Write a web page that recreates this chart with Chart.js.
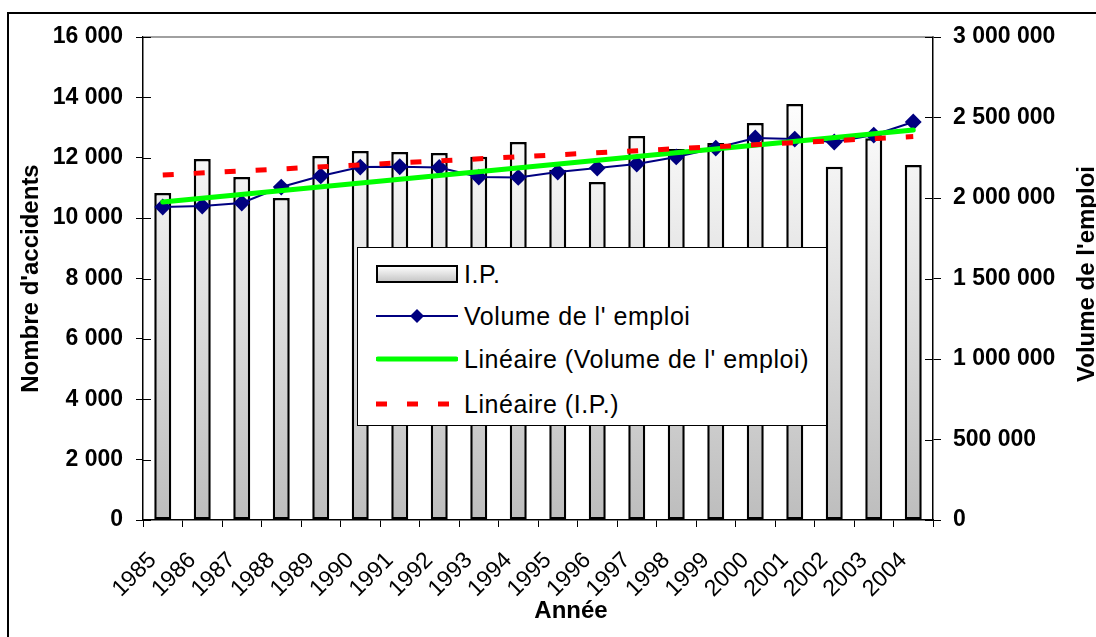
<!DOCTYPE html>
<html>
<head>
<meta charset="utf-8">
<script src="https://cdn.jsdelivr.net/npm/chart.js@4.4.1/dist/chart.umd.min.js"></script>
<style>
  body { margin: 0; background: #fff; overflow: hidden; font-family: "Liberation Sans", Arial, sans-serif; }
  #wrap { position: relative; width: 1096px; height: 637px; overflow: hidden; background: #fff; }
  #frame { position: absolute; left: 7px; top: 12px; width: 1200px; height: 700px; border: 2px solid #000; }
  #chart { position: absolute; left: 0; top: 0; }
  #legend { position: absolute; left: 357px; top: 247px; width: 468px; height: 177px; background: #fff; border: 1.5px solid #000; }
  #legend .row { position: absolute; left: 18px; height: 30px; display: flex; align-items: center; font-size: 25px; letter-spacing: 0.55px; color: #000; white-space: nowrap; }
  #legend svg { margin-right: 6px; }
  .axis-title { position: absolute; font-weight: bold; font-size: 24px; color: #000; text-align: center; white-space: nowrap; line-height: 28px; height: 28px; }
  #titleX { left: 471px; top: 596px; width: 200px; }
  #titleY2 { left: 936px; top: 260px; width: 300px; transform: rotate(-90deg); }
</style>
</head>
<body>
<div id="wrap">
  <div id="frame"></div>
  <canvas id="chart" width="1096" height="637"></canvas>
  <div id="legend">
    <div class="row" style="top:11px">
      <svg width="82" height="20"><defs><linearGradient id="g" x1="0" y1="0" x2="0" y2="1"><stop offset="0" stop-color="#fff"/><stop offset="1" stop-color="#c4c4c4"/></linearGradient></defs><rect x="1" y="2" width="80" height="16" fill="url(#g)" stroke="#000" stroke-width="2"/></svg>I.P.</div>
    <div class="row" style="top:53px">
      <svg width="82" height="20"><line x1="0" y1="10" x2="82" y2="10" stroke="#000080" stroke-width="2"/><polygon points="41,3 48,10 41,17 34,10" fill="#000080"/></svg>Volume de l' emploi</div>
    <div class="row" style="top:96px">
      <svg width="82" height="20"><line x1="2" y1="10" x2="80" y2="10" stroke="#00ff00" stroke-width="5" stroke-linecap="round"/></svg>Linéaire (Volume de l' emploi)</div>
    <div class="row" style="top:141px">
      <svg width="82" height="20"><line x1="0" y1="10" x2="82" y2="10" stroke="#ff0000" stroke-width="5" stroke-dasharray="11 20"/></svg>Linéaire (I.P.)</div>
  </div>
  <div class="axis-title" id="titleX">Année</div>
  <div class="axis-title" id="titleY2">Volume de l'emploi</div>
</div>
<script>
const years = ['1985', '1986', '1987', '1988', '1989', '1990', '1991', '1992', '1993', '1994',
               '1995', '1996', '1997', '1998', '1999', '2000', '2001', '2002', '2003', '2004'];

// nombre d'accidents (I.P.), axe de gauche
const ipValues = [10830, 11960, 11360, 10670, 12060, 12220, 12190, 12160, 12030, 12520,
                  11600, 11200, 12720, 12290, 12490, 13150, 13780, 11700, 12650, 11760];

// volume de l'emploi, axe de droite
const emploiValues = [1944000, 1950000, 1969000, 2068000, 2137000, 2192000, 2194000, 2190000, 2130000, 2128000,
                      2161000, 2186000, 2211000, 2255000, 2310000, 2373000, 2366000, 2348000, 2391000, 2472000];

// droites de tendance (début et fin)
const trendYears = ['1985', '2004'];
const trendEmploi = [1975000, 2422000];
const trendIP = [11430, 12700];

const leftMax = 16000, leftStep = 2000;
const rightMax = 3000000, rightStep = 500000;

function spaced(v) {
  return v.toString().replace(/\B(?=(\d{3})+(?!\d))/g, ' ');
}

function barFill(context) {
  const area = context.chart.chartArea;
  if (!area) return '#ddd';
  const g = context.chart.ctx.createLinearGradient(0, area.top + 60, 0, area.bottom);
  g.addColorStop(0, '#ffffff');
  g.addColorStop(1, '#bdbdbd');
  return g;
}

// bord gris en haut de la zone de tracé + petites graduations intérieures
const plotTop = {
  id: 'plotTop',
  beforeDatasetsDraw(chart) {
    const { ctx, chartArea, scales } = chart;
    ctx.save();
    ctx.strokeStyle = '#808080';
    ctx.lineWidth = 1.5;
    ctx.beginPath();
    ctx.moveTo(chartArea.left, chartArea.top);
    ctx.lineTo(chartArea.right, chartArea.top);
    ctx.stroke();
    ctx.strokeStyle = '#000';
    ctx.lineWidth = 1;
    ctx.beginPath();
    scales.y.ticks.forEach((t, i) => {
      const py = Math.round(scales.y.getPixelForTick(i)) + 0.5;
      ctx.moveTo(chartArea.left, py);
      ctx.lineTo(chartArea.left + 8, py);
    });
    scales.y2.ticks.forEach((t, i) => {
      const py = Math.round(scales.y2.getPixelForTick(i)) + 0.5;
      ctx.moveTo(chartArea.right - 8, py);
      ctx.lineTo(chartArea.right, py);
    });
    ctx.stroke();
    ctx.restore();
  }
};

const ctx = document.getElementById('chart').getContext('2d');

new Chart(ctx, {
  type: 'bar',
  data: {
    labels: years,
    datasets: [
      {
        type: 'line',
        label: 'Linéaire (I.P.)',
        data: trendYears.map((y, i) => ({ x: y, y: trendIP[i] })),
        yAxisID: 'y',
        borderColor: '#ff0000',
        borderWidth: 5,
        borderDash: [11, 20],
        pointRadius: 0,
        fill: false,
        order: 1,
      },
      {
        type: 'line',
        label: "Linéaire (Volume de l' emploi)",
        data: trendYears.map((y, i) => ({ x: y, y: trendEmploi[i] })),
        yAxisID: 'y2',
        borderColor: '#00ff00',
        borderWidth: 5,
        borderCapStyle: 'round',
        pointRadius: 0,
        fill: false,
        order: 2,
      },
      {
        type: 'line',
        label: "Volume de l' emploi",
        data: emploiValues,
        yAxisID: 'y2',
        borderColor: '#000080',
        borderWidth: 2,
        pointStyle: 'rectRot',
        pointRadius: 7,
        pointBackgroundColor: '#000080',
        pointBorderColor: '#000080',
        fill: false,
        tension: 0,
        order: 3,
      },
      {
        label: 'I.P.',
        data: ipValues,
        yAxisID: 'y',
        backgroundColor: barFill,
        borderColor: '#000',
        borderWidth: 2.5,
        borderSkipped: false,
        categoryPercentage: 1,
        barPercentage: 0.43,
        order: 4,
      },
    ],
  },
  options: {
    responsive: false,
    animation: false,
    layout: { padding: { top: 37, left: 0, right: 0, bottom: 0 } },
    plugins: {
      legend: { display: false },
      tooltip: { enabled: false },
    },
    scales: {
      x: {
        type: 'category',
        offset: true,
        grid: { display: true, drawOnChartArea: false, offset: true, tickLength: 7, color: '#000', tickWidth: 1 },
        border: { color: '#000', width: 1.5 },
        ticks: {
          color: '#000',
          font: { family: 'Liberation Sans', size: 23 },
          minRotation: 45,
          maxRotation: 45,
          padding: 20,
          labelOffset: -10,
          autoSkip: false,
        },
        afterFit: s => { s.height = 117; },
      },
      y: {
        position: 'left',
        min: 0,
        max: leftMax,
        grid: { display: true, drawOnChartArea: false, tickLength: 7, color: '#000' },
        border: { color: '#000', width: 1.5 },
        ticks: {
          stepSize: leftStep,
          color: '#000',
          padding: 13,
          font: { family: 'Liberation Sans', size: 23, weight: 'bold' },
          callback: v => spaced(v),
        },
        title: {
          display: true,
          text: "Nombre d'accidents",
          color: '#000',
          font: { family: 'Liberation Sans', size: 24, weight: 'bold' },
          padding: { top: 17, bottom: 0 },
        },
        afterFit: s => { s.width = 143; },
      },
      y2: {
        position: 'right',
        min: 0,
        max: rightMax,
        grid: { display: true, drawOnChartArea: false, tickLength: 8, color: '#000' },
        border: { color: '#000', width: 1.5 },
        ticks: {
          stepSize: rightStep,
          color: '#000',
          padding: 12,
          font: { family: 'Liberation Sans', size: 23, weight: 'bold' },
          callback: v => spaced(v),
        },
        afterFit: s => { s.width = 163; },
      },
    },
  },
  plugins: [plotTop],
});
</script>
</body>
</html>
